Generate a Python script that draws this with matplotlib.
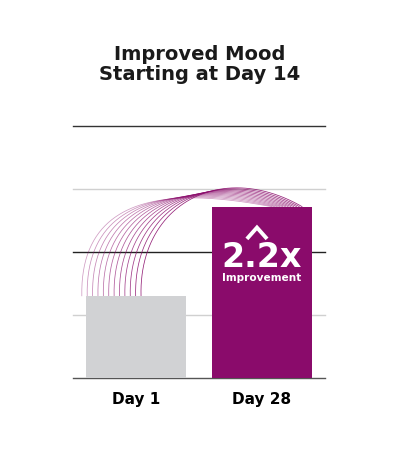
import numpy as np
import matplotlib
matplotlib.use('Agg')
from matplotlib import pyplot as plt

# chart data
categories = ['Day 1', 'Day 28']
values = [1.30, 2.72]
bar_colors = ['#d1d2d4', '#8a0b6b']
title_lines = ['Improved Mood', 'Starting at Day 14']
badge_big = '2.2x'
badge_small = 'Improvement'

plt.rcParams['font.family'] = ['DejaVu Sans']


def bezier(p0, p1, p2, p3, n=150):
    s = np.linspace(0, 1, n)[:, None]
    pts = ((1 - s) ** 3) * p0 + 3 * ((1 - s) ** 2) * s * p1 + 3 * (1 - s) * s ** 2 * p2 + s ** 3 * p3
    return pts[:, 0], pts[:, 1]


fig = plt.figure(figsize=(4.0, 4.49), dpi=100)
ax = fig.add_axes([0.1825, 0.158, 0.63, 0.561])

# grid lines behind the bars
grid_colors = ['#555555', '#d0d0d0', '#222222', '#d0d0d0', '#333333']
for yv, c in zip(range(5), grid_colors):
    ax.axhline(yv, color=c, lw=1.0, zorder=0, clip_on=False)

x = np.arange(len(categories))
ax.bar(x, values, width=0.79, color=bar_colors, zorder=2)

# swoosh lines from Day 1 bar up to Day 28 bar (twisting ribbon)
v1, v2 = values
n_lines = 12
for i in range(n_lines):
    t = i / (n_lines - 1)
    sx = x[0] - 0.43 + 0.47 * t
    p0 = np.array([sx, v1])
    p1 = np.array([sx - 0.02, v1 + 1.85 - 0.4 * t])
    p2 = np.array([0.5 + 0.17 * t, v2 + 0.22 + 0.53 * t])
    p3 = np.array([x[1] + 0.08 + 0.24 * t, v2])
    bx, by = bezier(p0, p1, p2, p3)
    ax.plot(bx, by, color='#8a0b6b', lw=0.55, alpha=0.4 + 0.5 * t, zorder=1,
            solid_capstyle='butt')

# badge inside the Day 28 bar
cx = x[1]
ax.plot([cx - 0.12, cx - 0.04, cx + 0.04], [v2 - 0.51, v2 - 0.33, v2 - 0.51],
        color='white', lw=2.8, solid_joinstyle='miter', solid_capstyle='butt', zorder=3)
ax.text(cx, v2 - 0.96, badge_big, color='white', fontsize=24, fontweight='bold',
        ha='center', va='baseline', zorder=3)
ax.text(cx, v2 - 1.18, badge_small, color='white', fontsize=7.6, fontweight='bold',
        ha='center', va='baseline', zorder=3)

ax.set_xlim(-0.5, 1.5)
ax.set_ylim(0, 4)
ax.set_xticks(x)
ax.set_xticklabels(categories, fontsize=11, fontweight='bold')
ax.tick_params(axis='x', length=0, pad=10)
ax.set_yticks([])
for sp in ax.spines.values():
    sp.set_visible(False)

fig.text(0.5, 1 - 60 / 449, title_lines[0], ha='center', va='baseline',
         fontsize=14, fontweight='bold', color='#1a1a1a')
fig.text(0.5, 1 - 80.5 / 449, title_lines[1], ha='center', va='baseline',
         fontsize=14, fontweight='bold', color='#1a1a1a')

fig.savefig('out.png', dpi=100)
plt.close()
